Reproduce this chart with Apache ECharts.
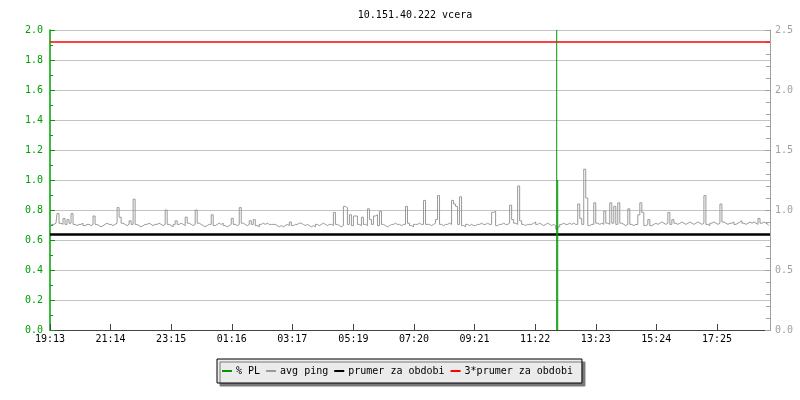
<!DOCTYPE html>
<html>
<head>
<meta charset="utf-8">
<script src="https://cdn.jsdelivr.net/npm/echarts@6/dist/echarts.min.js"></script>
<style>html,body{margin:0;padding:0;background:#fff}#c{width:800px;height:400px}</style>
</head>
<body>
<div id="c"></div>
<script>
// ---- data ----
const titleText = '10.151.40.222 vcera';
const sampleStepMin = 4;          // minutes between avg ping samples
const spanMin = 1438;             // minutes shown on the x axis
const tickMinutes = [0, 121, 242, 363, 484, 606, 727, 848, 969, 1090, 1211, 1332];
const tickLabels = ['19:13','21:14','23:15','01:16','03:17','05:19','07:20','09:21','11:22','13:23','15:24','17:25'];
const avgPing = [
0.87,0.88,0.88,0.89,0.97,0.89,0.88,0.93,0.88,0.92,0.89,0.97,0.88,0.87,0.88,0.88,0.89,0.87,0.88,0.88,
0.87,0.88,0.95,0.88,0.87,0.86,0.87,0.88,0.89,0.88,0.88,0.87,0.88,0.89,1.02,0.94,0.89,0.88,0.87,0.88,
0.91,0.88,1.09,0.88,0.87,0.86,0.87,0.88,0.88,0.89,0.88,0.87,0.88,0.88,0.89,0.88,0.87,0.88,1.00,0.88,
0.87,0.86,0.88,0.91,0.88,0.89,0.88,0.87,0.94,0.89,0.88,0.87,0.88,1.00,0.89,0.88,0.87,0.86,0.87,0.88,
0.88,0.96,0.87,0.88,0.89,0.88,0.89,0.87,0.86,0.87,0.88,0.93,0.88,0.87,0.88,1.02,0.89,0.88,0.87,0.88,
0.91,0.88,0.92,0.87,0.86,0.88,0.89,0.88,0.89,0.88,0.88,0.88,0.88,0.87,0.86,0.87,0.86,0.87,0.88,0.87,
0.90,0.87,0.88,0.88,0.89,0.89,0.88,0.87,0.88,0.87,0.86,0.87,0.86,0.88,0.87,0.88,0.89,0.88,0.87,0.88,
0.88,0.87,0.98,0.88,0.87,0.86,0.87,1.03,1.02,0.88,0.96,0.87,0.95,0.95,0.88,0.87,0.94,0.88,0.87,1.01,
0.92,0.88,0.95,0.96,0.87,0.99,0.88,0.87,0.86,0.87,0.88,0.88,0.89,0.88,0.88,0.87,0.88,0.88,1.03,0.89,
0.87,0.86,0.88,0.88,0.89,0.88,0.88,1.08,0.88,0.88,0.87,0.88,0.89,0.92,1.12,0.88,0.87,0.88,0.88,0.89,
0.88,1.08,1.05,1.03,0.88,1.11,0.87,0.86,0.88,0.87,0.88,0.87,0.87,0.88,0.88,0.89,0.88,0.88,0.89,0.88,
0.88,0.98,0.99,0.87,0.88,0.88,0.89,0.88,0.88,0.89,1.04,0.92,0.89,0.88,1.20,0.91,0.88,0.87,0.88,0.88,
0.88,0.89,0.90,0.88,0.89,0.88,0.87,0.88,0.89,0.88,0.87,0.88,0.87,0.84,0.86,0.88,0.89,0.88,0.88,0.89,
0.88,0.89,0.88,0.88,1.05,0.93,0.88,1.34,1.10,0.87,0.88,0.88,1.06,0.89,0.88,0.89,0.88,0.99,0.89,0.88,
1.06,0.89,1.03,0.88,1.06,0.89,0.88,0.87,0.88,1.01,0.88,0.87,0.88,0.88,0.96,1.06,0.98,0.87,0.88,0.92,
0.87,0.88,0.89,0.88,0.89,0.90,0.89,0.88,0.89,0.98,0.88,0.92,0.89,0.88,0.89,0.90,0.89,0.88,0.89,0.90,
0.89,0.88,0.89,0.90,0.89,0.88,0.89,1.12,0.88,0.87,0.89,0.90,0.89,0.88,0.89,1.05,0.90,0.89,0.88,0.89,
0.89,0.90,0.88,0.89,0.90,0.91,0.89,0.88,0.89,0.90,0.89,0.90,0.89,0.88,0.93,0.89,0.90,0.89,0.88,0.87
];
const plMinutes = [1012, 1014];
const plValues = [3.0, 1.0];
const avgPeriod = 0.80;
const avgPeriod3 = 2.40;
const seriesNames = ['% PL', 'avg ping', 'prumer za obdobi', '3*prumer za obdobi'];

// ---- chart ----
const mono = '"DejaVu Sans Mono", "Liberation Mono", monospace';
const green = '#009900';
const pingData = avgPing.map((v, i) => [i * sampleStepMin, v]);
const plData = plMinutes.map((m, i) => [m, plValues[i]]);

const chart = echarts.init(document.getElementById('c'), null, {renderer: 'canvas'});
chart.setOption({
  animation: false,
  backgroundColor: '#ffffff',
  title: {
    text: titleText, left: 410, top: 5, textAlign: 'center',
    textStyle: {fontFamily: mono, fontSize: 10, fontWeight: 'normal', color: '#000'}
  },
  grid: {left: 50, right: 30, top: 30, bottom: 70, containLabel: false},
  legend: {
    data: seriesNames, left: 217, top: 359, selectedMode: false,
    icon: 'rect', itemWidth: 10, itemHeight: 2, itemGap: 6,
    padding: [7, 9, 7, 5],
    backgroundColor: '#ebebeb', borderColor: '#000', borderWidth: 1, borderRadius: 0,
    shadowColor: '#7a7a7a', shadowBlur: 0, shadowOffsetX: 3, shadowOffsetY: 3,
    textStyle: {fontFamily: mono, fontSize: 10, color: '#000', padding: [0, 0, 0, -1]}
  },
  xAxis: {
    type: 'value', min: 0, max: spanMin,
    axisLine: {show: true, onZero: false, lineStyle: {color: '#444', width: 1}},
    axisTick: {show: true, inside: true, length: 6, customValues: tickMinutes, lineStyle: {color: '#444'}},
    axisLabel: {
      customValues: tickMinutes, margin: 4,
      fontFamily: mono, fontSize: 10, color: '#000',
      formatter: v => tickLabels[tickMinutes.indexOf(v)] || ''
    },
    splitLine: {show: false}
  },
  yAxis: [
    {
      type: 'value', min: 0, max: 2, interval: 0.2, position: 'left',
      axisLine: {show: true, lineStyle: {color: '#00a000', width: 1.5}},
      axisTick: {show: true, inside: true, length: 5, lineStyle: {color: '#00a000'}},
      minorTick: {show: true, splitNumber: 2, length: 3, lineStyle: {color: '#00a000'}},
      axisLabel: {margin: 7, fontFamily: mono, fontSize: 10, color: '#00a000', formatter: v => v.toFixed(1)},
      splitLine: {show: true, lineStyle: {color: '#c4c4c4', width: 1}}
    },
    {
      type: 'value', min: 0, max: 2.5, interval: 0.5, position: 'right',
      axisLine: {show: true, lineStyle: {color: '#a0a0a0', width: 1}},
      axisTick: {show: true, inside: true, length: 5, lineStyle: {color: '#a0a0a0'}},
      minorTick: {show: true, splitNumber: 5, length: 4, lineStyle: {color: '#a0a0a0'}},
      axisLabel: {margin: 5, fontFamily: mono, fontSize: 10, color: '#a0a0a0', formatter: v => v.toFixed(1)},
      splitLine: {show: false}
    }
  ],
  series: [
    {
      name: seriesNames[1], type: 'line', yAxisIndex: 1, data: pingData,
      step: 'middle', symbol: 'none', z: 2,
      itemStyle: {color: '#999999'},
      lineStyle: {color: '#999999', width: 1}
    },
    {
      name: seriesNames[2], type: 'line', yAxisIndex: 1, data: [], z: 3,
      symbol: 'none', itemStyle: {color: '#000000'}, lineStyle: {color: '#000', width: 2.5},
      markLine: {silent: true, symbol: 'none', label: {show: false},
        lineStyle: {color: '#000', width: 2.5, type: 'solid'}, data: [{yAxis: avgPeriod}]}
    },
    {
      name: seriesNames[3], type: 'line', yAxisIndex: 1, data: [], z: 3,
      symbol: 'none', itemStyle: {color: '#ff0000'}, lineStyle: {color: '#ff0000', width: 1.5},
      markLine: {silent: true, symbol: 'none', label: {show: false},
        lineStyle: {color: '#ff0000', width: 1.5, type: 'solid'}, data: [{yAxis: avgPeriod3}]}
    },
    {
      name: seriesNames[0], type: 'bar', yAxisIndex: 0, data: plData, z: 5,
      barWidth: 1, clip: true, itemStyle: {color: green}
    }
  ]
});
</script>
</body>
</html>
